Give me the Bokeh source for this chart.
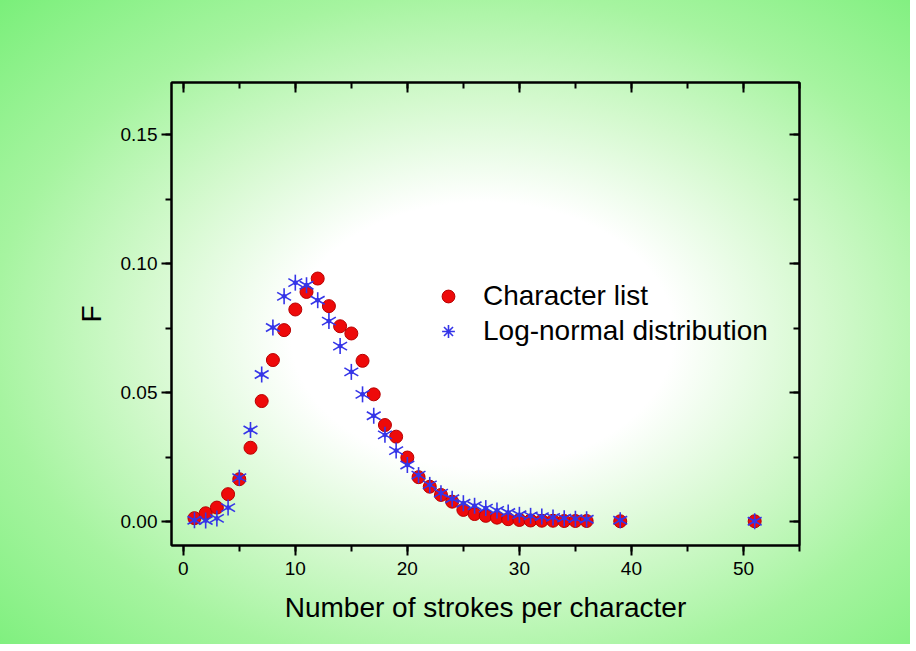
from bokeh.plotting import figure
from bokeh.models import (LinearAxis, SingleIntervalTicker, PrintfTickFormatter,
                          CustomJSTickFormatter, Legend, LegendItem, Range1d)
from bokeh.embed import file_html
from bokeh.resources import INLINE
import numpy as np

# ---- data ----
strokes = [1, 2, 3, 4, 5, 6, 7, 8, 9, 10, 11, 12, 13, 14, 15, 16, 17, 18, 19, 20,
           21, 22, 23, 24, 25, 26, 27, 28, 29, 30, 31, 32, 33, 34, 35, 36, 39, 51]
character_list = [0.0013, 0.0032, 0.0054, 0.0106, 0.0164, 0.0286, 0.0467, 0.0626,
                  0.0742, 0.0822, 0.0890, 0.0942, 0.0835, 0.0757, 0.0729, 0.0623,
                  0.0493, 0.0374, 0.0329, 0.0248, 0.0172, 0.0135, 0.0103, 0.0077,
                  0.0045, 0.0029, 0.0022, 0.0015, 0.0009, 0.0006, 0.0004, 0.0003,
                  0.0003, 0.0002, 0.0002, 0.0002, 0.0001, 0.0001]
log_normal = [0.0005, 0.0004, 0.0012, 0.0054, 0.0170, 0.0355, 0.0570, 0.0752,
              0.0873, 0.0926, 0.0916, 0.0858, 0.0777, 0.0680, 0.0580, 0.0493,
              0.0410, 0.0336, 0.0275, 0.0219, 0.0180, 0.0142, 0.0110, 0.0088,
              0.0071, 0.0061, 0.0052, 0.0043, 0.0035, 0.0026, 0.0022, 0.0019,
              0.0016, 0.0013, 0.0011, 0.0009, 0.0005, 0.0001]
series_names = ["Character list", "Log-normal distribution"]
x_title = "Number of strokes per character"
y_title = "F"

FONT = "Liberation Sans"

p = figure(width=910, height=644, output_backend="svg", toolbar_location=None,
           x_range=Range1d(-1.05, 55.0), y_range=Range1d(-0.0093, 0.1702),
           min_border_left=171, min_border_right=111, min_border_top=82,
           min_border_bottom=99, x_axis_type=None, y_axis_type=None)
p.border_fill_color = None
p.background_fill_color = None
p.outline_line_color = "black"
p.outline_line_width = 2
p.grid.visible = False
p.styles = {"background": "radial-gradient(ellipse farthest-corner at 53% 52%, "
                          "#ffffff 0%, #ffffff 28%, #d4f9ce 50%, #a6f4a0 72%, #7aef7a 100%)"}

xt = SingleIntervalTicker(interval=10, num_minor_ticks=2)
yt = SingleIntervalTicker(interval=0.05, num_minor_ticks=2)

def style_axis(ax):
    ax.axis_line_width = 2
    ax.axis_line_color = "black"
    ax.major_tick_line_width = 2
    ax.minor_tick_line_width = 2
    ax.major_tick_line_color = "black"
    ax.minor_tick_line_color = "black"
    ax.major_label_text_font = FONT
    ax.major_label_text_font_size = "19px"
    ax.major_label_text_color = "black"
    ax.axis_label_text_font = FONT
    ax.axis_label_text_font_size = "28px"
    ax.axis_label_text_font_style = "normal"
    ax.axis_label_text_color = "black"

xb = LinearAxis(ticker=xt, axis_label=x_title, major_tick_in=0, major_tick_out=10,
                minor_tick_in=0, minor_tick_out=6, major_label_standoff=6,
                axis_label_standoff=14)
style_axis(xb)
p.add_layout(xb, "below")

yl = LinearAxis(ticker=yt, axis_label=y_title, major_tick_in=0, major_tick_out=10,
                minor_tick_in=0, minor_tick_out=6, major_label_standoff=4,
                axis_label_standoff=11, formatter=PrintfTickFormatter(format="%.2f"))
style_axis(yl)
p.add_layout(yl, "left")

xtop = LinearAxis(ticker=xt, major_tick_in=10, major_tick_out=0, minor_tick_in=6,
                  minor_tick_out=0, formatter=CustomJSTickFormatter(code="return ''"),
                  major_label_standoff=0)
style_axis(xtop)
p.add_layout(xtop, "above")
yr = LinearAxis(ticker=yt, major_tick_in=10, major_tick_out=0, minor_tick_in=6,
                minor_tick_out=0, formatter=CustomJSTickFormatter(code="return ''"),
                major_label_standoff=0)
style_axis(yr)
p.add_layout(yr, "right")

red = p.scatter(strokes, character_list, marker="circle", size=13,
                fill_color="#ee0a0a", line_color="#b80000", line_width=1)

blue = "#3535e8"
d1 = p.scatter(strokes, log_normal, marker="dash", size=16, angle=np.pi / 2,
               line_color=blue, line_width=1.6)
d2 = p.scatter(strokes, log_normal, marker="dash", size=16, angle=np.pi / 6,
               line_color=blue, line_width=1.6)
d3 = p.scatter(strokes, log_normal, marker="dash", size=16, angle=-np.pi / 6,
               line_color=blue, line_width=1.6)
dot = p.scatter(strokes, log_normal, marker="circle", size=4,
                fill_color=blue, line_color=blue)
# legend-only proxy (a NaN point, not drawn in the plot): legend glyphs ignore marker angles
star_proxy = p.scatter([np.nan], [np.nan], marker="asterisk", size=14, line_color=blue,
                       line_width=1.6)

legend = Legend(items=[LegendItem(label=series_names[0], renderers=[red]),
                       LegendItem(label=series_names[1], renderers=[star_proxy])],
                location=(261, 198), padding=0, margin=0, spacing=3,
                glyph_width=32, glyph_height=32, label_standoff=19,
                label_text_font=FONT, label_text_font_size="28px",
                label_text_color="black", border_line_color=None,
                background_fill_color=None)
p.add_layout(legend, "center")

open("out.html", "w").write(file_html(p, INLINE))
